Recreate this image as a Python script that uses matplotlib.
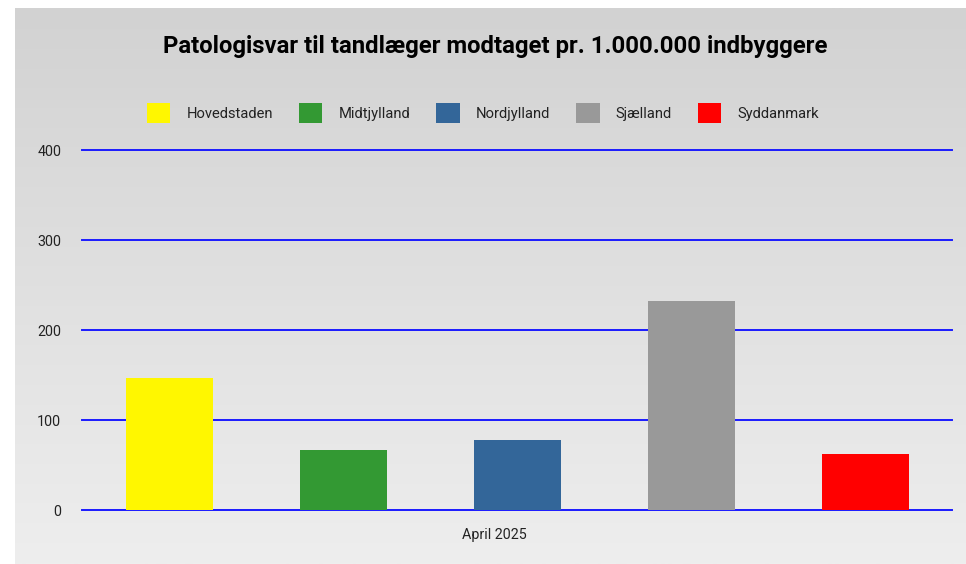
import numpy as np
import matplotlib.pyplot as plt
from matplotlib.colors import LinearSegmentedColormap

plt.rcParams['font.family'] = ['Roboto', 'DejaVu Sans']

regions = ['Hovedstaden', 'Midtjylland', 'Nordjylland', 'Sjælland', 'Syddanmark']
values = [146.5, 66.7, 77.8, 232.2, 62.6]
colors = ['#fff700', '#339933', '#336699', '#999999', '#ff0000']
period = 'April 2025'
title = 'Patologisvar til tandlæger modtaget pr. 1.000.000 indbyggere'
yticks = [0, 100, 200, 300, 400]

W, H = 966, 564
fig = plt.figure(figsize=(W / 100, H / 100), dpi=100, facecolor='white')

# gradient background of the chart area
bg = fig.add_axes([15 / W, 0, 1 - 15 / W, (H - 8) / H])
grad = np.linspace(0, 1, 256).reshape(-1, 1)
cmap = LinearSegmentedColormap.from_list('bg', ['#d2d2d2', '#eeeeee'])
bg.imshow(grad, aspect='auto', cmap=cmap, extent=[0, 1, 0, 1], origin='upper')
bg.set_axis_off()

ax = fig.add_axes([82 / W, (H - 510) / H, (952 - 82) / W, (510 - 150) / H])
ax.patch.set_alpha(0)
x = np.arange(len(regions))
bars = ax.bar(x, values, width=0.5, color=colors, label=regions, zorder=3)
ax.set_xlim(-0.5, len(regions) - 0.5)
ax.set_ylim(0, 400)
ax.set_yticks(yticks)
ax.set_xticks([1.87], [period])
ax.tick_params(length=0, labelsize=10.3, colors='#222222')
ax.tick_params(axis='y', pad=15)
ax.tick_params(axis='x', pad=13)
for s in ax.spines.values():
    s.set_visible(False)
ax.yaxis.grid(True, color='#1a1aff', linewidth=1.4, zorder=1)
for gl in ax.get_ygridlines():
    gl.set_clip_on(False)

fig.text(495 / W, 1 - 47 / H, title, ha='center', va='center',
         fontsize=17.2, fontweight='bold', color='black')

fig.legend(bars, regions, loc='center', bbox_to_anchor=(483 / W, 1 - 113 / H),
           ncol=5, frameon=False, fontsize=10.6, handlelength=1.6,
           handleheight=1.7, handletextpad=1.1, columnspacing=1.75,
           labelcolor='#222222')

fig.savefig('out.png', dpi=100, facecolor='white')
